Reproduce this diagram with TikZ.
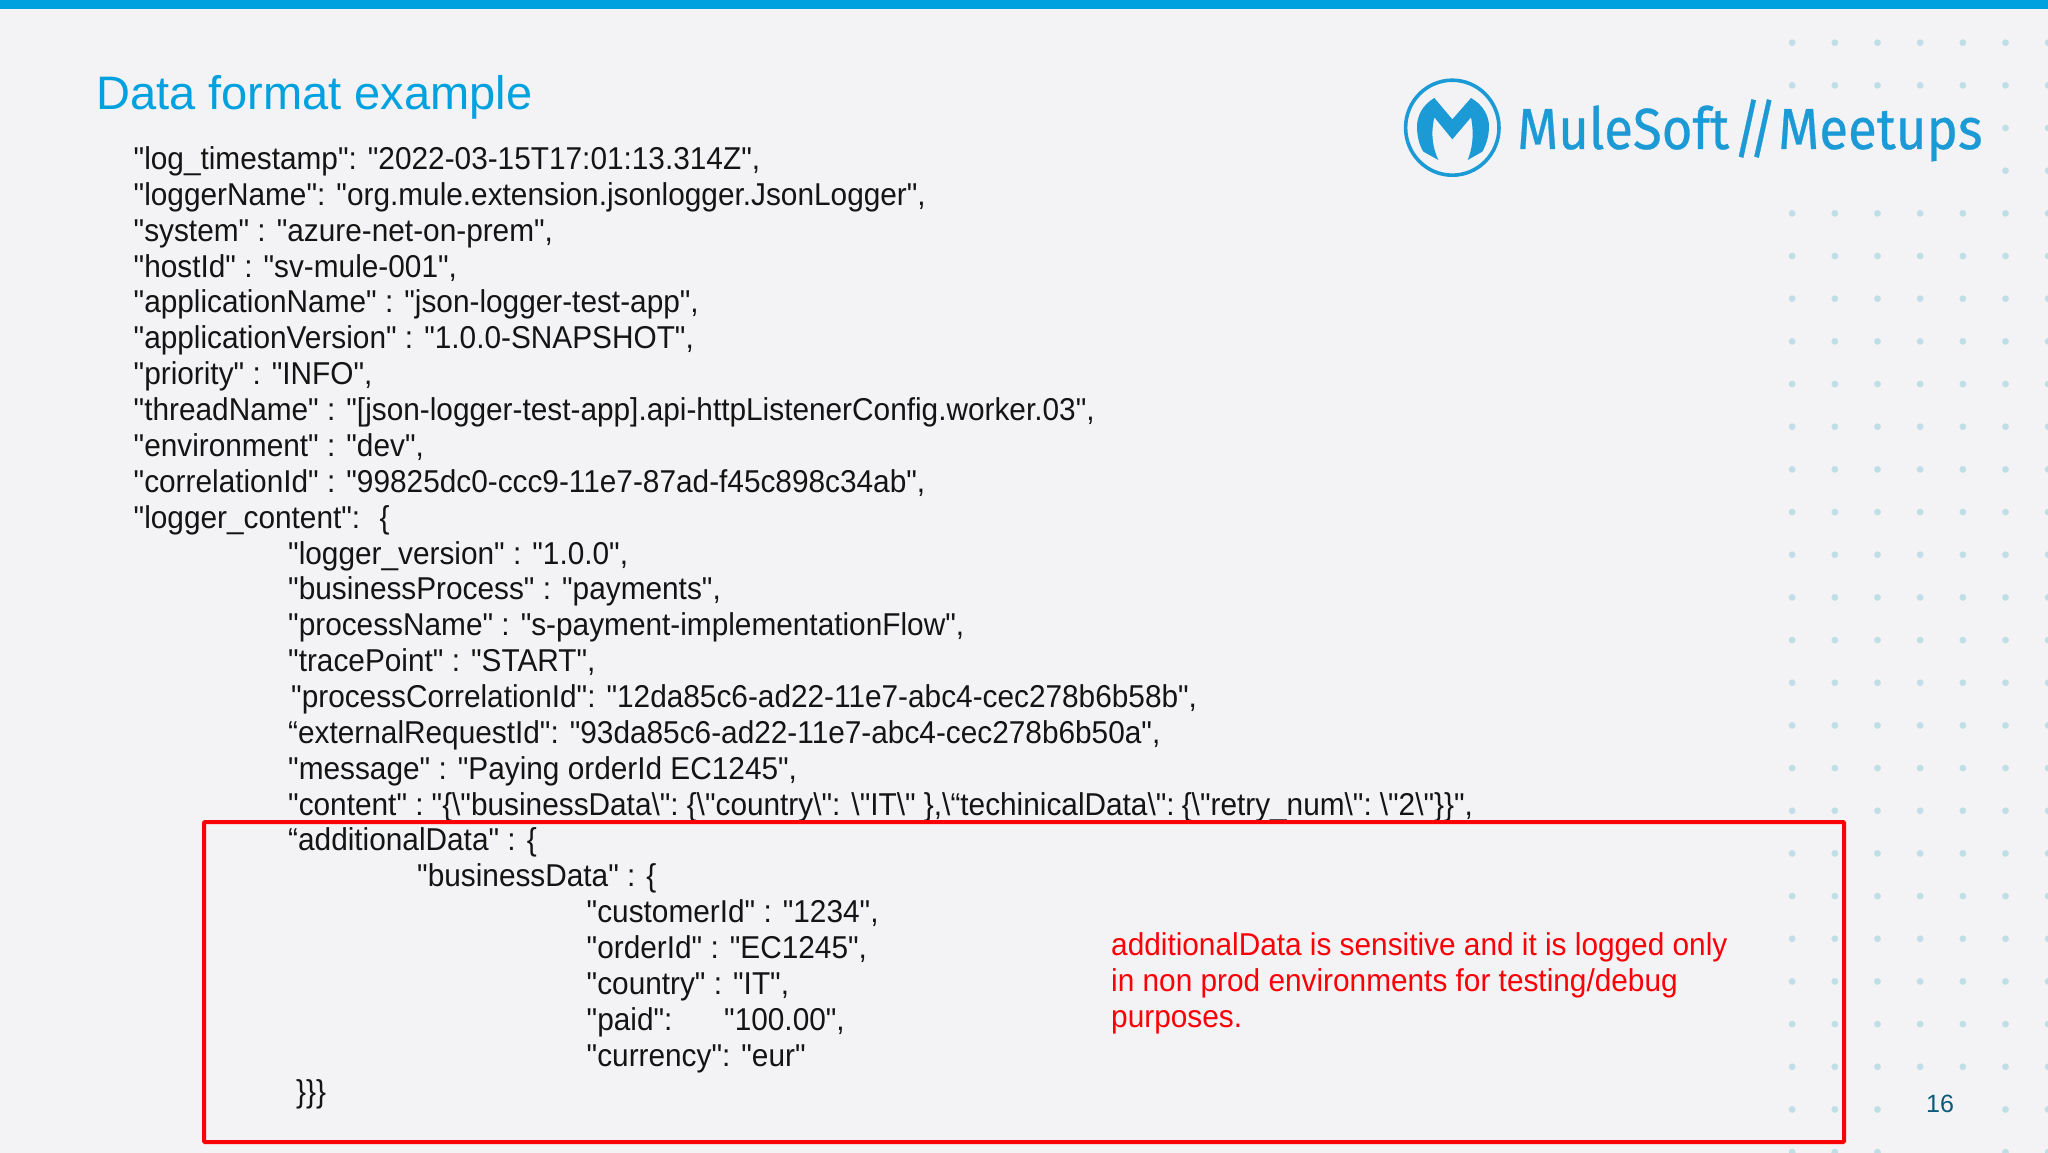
\documentclass[tikz,border=0pt]{standalone}
\usepackage{fontspec}
\setmainfont{Liberation Sans}
\newfontfamily\codefont{Liberation Sans}[FakeStretch=0.943]
\newfontfamily\logofont{Fira Sans}[FakeStretch=0.91, FakeBold=0.5]
\newfontfamily\slashfont{Fira Sans}[FakeStretch=0.85, FakeBold=0.5]
\usepackage{tikz}
\definecolor{slidebg}{HTML}{F3F3F5}
\definecolor{barblue}{HTML}{00A1DF}
\definecolor{logoblue}{HTML}{1B9AD6}
\definecolor{dotblue}{HTML}{BFDEE6}
\definecolor{pagenum}{HTML}{0B5A7A}
\definecolor{boxred}{HTML}{FB0006}
\newcommand{\bsl}{\textbackslash}
\tikzset{
    codeline/.style={anchor=base west, inner sep=0pt, font=\codefont\fontsize{31.6}{36}\selectfont, text=black!92},
    noteline/.style={anchor=base west, inner sep=0pt, font=\codefont\fontsize{31.6}{36}\selectfont, text=boxred},
    logotext/.style={anchor=base west, inner sep=0pt, text=logoblue},
}

\begin{document}
\begin{tikzpicture}[x=1pt, y=-1pt]
    \useasboundingbox (0,0) rectangle (2048,1153);
    \fill[slidebg] (0,0) rectangle (2048,1153);
    \fill[barblue] (0,0) rectangle (2048,9);

    % dots
    \foreach \i in {42,...,48}
        \foreach \j in {1,...,27} {
            \pgfmathtruncatemacro{\hide}{(\j==3 || \j==4) && \i<47 ? 1 : ((\j>=26 && (\i==45 || \i==46)) ? 1 : 0)}
            \ifnum\hide=0
                \fill[dotblue] (42.67*\i,42.67*\j) circle (3.4);
            \fi
        }

    % title and page number
    \node[anchor=base west, inner sep=0pt, font=\fontsize{47}{50}\selectfont, text=barblue] (title) at (96,110) {Data format example};
    \node[anchor=base west, inner sep=0pt, font=\fontsize{25}{30}\selectfont, text=pagenum] (pageno) at (1926,1112) {16};

    % log record
    \node[codeline] (l0) at (133.5,169.5) {"log\_timestamp": "2022-03-15T17:01:13.314Z",};
    \node[codeline] (l1) at (133.5,205.4) {"loggerName": "org.mule.extension.jsonlogger.JsonLogger",};
    \node[codeline] (l2) at (133.5,241.2) {"system" : "azure-net-on-prem",};
    \node[codeline] (l3) at (133.5,277.1) {"hostId" : "sv-mule-001",};
    \node[codeline] (l4) at (133.5,312.9) {"applicationName" : "json-logger-test-app",};
    \node[codeline] (l5) at (133.5,348.8) {"applicationVersion" : "1.0.0-SNAPSHOT",};
    \node[codeline] (l6) at (133.5,384.7) {"priority" : "INFO",};
    \node[codeline] (l7) at (133.5,420.5) {"threadName" : "[json-logger-test-app].api-httpListenerConfig.worker.03",};
    \node[codeline] (l8) at (133.5,456.4) {"environment" : "dev",};
    \node[codeline] (l9) at (133.5,492.2) {"correlationId" : "99825dc0-ccc9-11e7-87ad-f45c898c34ab",};
    \node[codeline] (l10) at (133.5,528.1) {"logger\_content": \ \{};
    \node[codeline] (l11) at (288,564.0) {"logger\_version" : "1.0.0",};
    \node[codeline] (l12) at (288,599.8) {"businessProcess" : "payments",};
    \node[codeline] (l13) at (288,635.7) {"processName" : "s-payment-implementationFlow",};
    \node[codeline] (l14) at (288,671.5) {"tracePoint" : "START",};
    \node[codeline] (l15) at (291,707.4) {"processCorrelationId": "12da85c6-ad22-11e7-abc4-cec278b6b58b",};
    \node[codeline] (l16) at (288,743.3) {“externalRequestId": "93da85c6-ad22-11e7-abc4-cec278b6b50a",};
    \node[codeline] (l17) at (288,779.1) {"message" : "Paying orderId EC1245",};
    \node[codeline] (l18) at (288,815.0) {"content" : \kern-3pt"\{\bsl"businessData\bsl": \kern-3pt\{\bsl"country\bsl": \bsl"IT\bsl" \},\bsl“techinicalData\bsl": \kern-4pt\{\bsl"retry\_num\bsl": \kern-3pt\bsl"2\bsl"\}\}",};
    \node[codeline] (l19) at (288,850.5) {“additionalData" : \{};
    \node[codeline] (l20) at (417,886) {"businessData" : \{};
    \node[codeline] (l21) at (586.5,922) {"customerId" : "1234",};
    \node[codeline] (l22) at (586.5,958) {"orderId" : "EC1245",};
    \node[codeline] (l23) at (586.5,994) {"country" : "IT",};
    \node[codeline] (l24) at (586.5,1030) {"paid":};
    \node[codeline] (l24v) at (724,1030) {"100.00",};
    \node[codeline] (l25) at (586.5,1066) {"currency": "eur"};
    \node[codeline] (l26) at (296,1102) {\}\}\}};

    % red box and note
    \draw[boxred, line width=4, rounded corners=1] (204,822) rectangle (1844,1142);
    \node[noteline] (n1) at (1111,955.5) {additionalData is sensitive and it is logged only};
    \node[noteline] (n2) at (1111,991.5) {in non prod environments for testing/debug};
    \node[noteline] (n3) at (1111,1027.5) {purposes.};

    % logo
    \draw[logoblue, line width=3.6] (1452.3,127.7) ellipse (46.7 and 47.5);
    \begin{scope}[shift={(1395,70)}, scale=1/3]
        \fill[logoblue] (118,84) -- (172,148) -- (228,84)
            .. controls (265,105) and (282,138) .. (282,170)
            .. controls (282,200) and (272,228) .. (262,245)
            -- (218,270)
            .. controls (232,235) and (238,195) .. (228,142)
            -- (172,208) -- (118,142)
            .. controls (106,195) and (114,235) .. (130,270)
            -- (85,245)
            .. controls (74,228) and (66,200) .. (66,170)
            .. controls (66,138) and (82,105) .. (118,84) -- cycle;
    \end{scope}
    \node[logotext, font=\logofont\fontsize{58}{60}\selectfont] (mule) at (1517,149) {MuleSoft};
    \node[logotext, font=\slashfont\fontsize{64}{60}\selectfont] (slash) at (1733,151) {/\kern-0.2em/};
    \node[logotext, font=\logofont\fontsize{58}{60}\selectfont] (meet) at (1778,149) {Meetups};
\end{tikzpicture}
\end{document}
